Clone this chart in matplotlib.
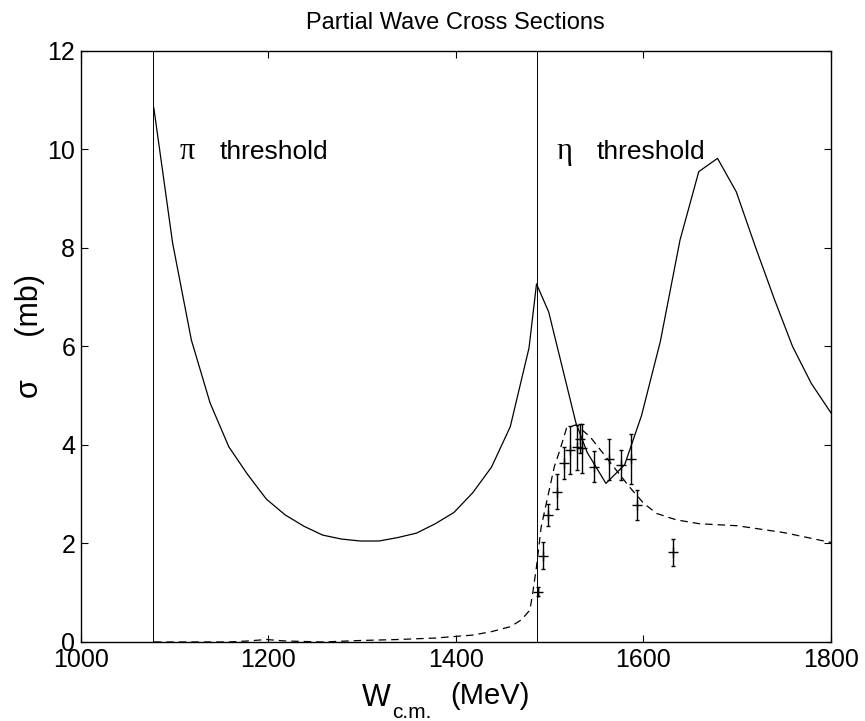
import matplotlib
matplotlib.use("Agg")
import matplotlib.pyplot as plt

plt.rcParams['font.family'] = ['Liberation Sans', 'DejaVu Sans']

# solid curve
w_solid = [1078, 1098, 1118, 1138, 1158, 1178, 1198, 1218, 1238, 1258, 1278, 1298,
           1318, 1338, 1358, 1378, 1398, 1418, 1438, 1458, 1478, 1486, 1499, 1528,
           1540, 1560, 1580, 1598, 1618, 1639, 1659, 1679, 1699, 1720, 1740, 1759,
           1779, 1800]
sig_solid = [10.84, 8.10, 6.13, 4.85, 3.96, 3.40, 2.90, 2.58, 2.35, 2.17, 2.09, 2.05,
             2.05, 2.12, 2.21, 2.40, 2.63, 3.03, 3.55, 4.37, 5.97, 7.27, 6.70, 4.45,
             3.85, 3.22, 3.60, 4.60, 6.10, 8.16, 9.55, 9.82, 9.14, 7.99, 6.94, 6.00,
             5.25, 4.65]

# dashed curve
w_dash = [1078, 1118, 1158, 1178, 1198, 1218, 1258, 1298, 1338, 1378, 1398, 1418,
          1438, 1458, 1470, 1479, 1482, 1486, 1491, 1498, 1505, 1511, 1518, 1528,
          1543, 1557, 1571, 1585, 1600, 1614, 1635, 1660, 1700, 1750, 1800]
sig_dash = [0.0, 0.0, 0.0, 0.02, 0.05, 0.02, 0.0, 0.03, 0.05, 0.08, 0.11, 0.14,
            0.21, 0.31, 0.45, 0.65, 1.0, 1.53, 2.34, 2.95, 3.56, 3.90, 4.34, 4.41,
            4.17, 3.83, 3.49, 3.15, 2.82, 2.61, 2.48, 2.40, 2.36, 2.22, 2.02]

# data points
w_data = [1488, 1493, 1498, 1508, 1515, 1522, 1529, 1532, 1535, 1547, 1563, 1576, 1587, 1593, 1632]
sig_data = [1.02, 1.75, 2.58, 3.05, 3.63, 3.90, 3.95, 4.13, 3.93, 3.56, 3.71, 3.59, 3.71, 2.78, 1.82]
err_data = [0.09, 0.27, 0.23, 0.36, 0.33, 0.48, 0.45, 0.30, 0.50, 0.31, 0.42, 0.30, 0.51, 0.30, 0.27]

pi_thr = 1077
eta_thr = 1486

fig = plt.figure(figsize=(8.65, 7.21), dpi=100)
ax = fig.add_axes([0.0933, 0.1096, 0.8674, 0.8197])

ax.plot(w_solid, sig_solid, 'k-', lw=0.9)
ax.plot(w_dash, sig_dash, 'k--', lw=0.9, dashes=(6, 4))
ax.errorbar(w_data, sig_data, yerr=err_data, fmt='k+', ms=7, mew=1.0,
            elinewidth=1.0, capsize=1.5, capthick=0.8)
ax.axvline(pi_thr, color='k', lw=0.7)
ax.axvline(eta_thr, color='k', lw=0.7)

serif = ['Liberation Serif', 'DejaVu Serif']
ax.text(1106, 9.95, 'π', family=serif, fontsize=22, va='center')
ax.text(1148, 9.95, 'threshold', fontsize=19, va='center')
ax.text(1507, 9.95, 'η', family=serif, fontsize=22, va='center')
ax.text(1550, 9.95, 'threshold', fontsize=19, va='center')

ax.set_xlim(1000, 1800)
ax.set_ylim(0, 12)
ax.set_xticks([1000, 1200, 1400, 1600, 1800])
ax.set_yticks([0, 2, 4, 6, 8, 10, 12])
ax.tick_params(direction='in', length=5, width=0.8, top=True, right=True,
               labelsize=18, pad=4)
for s in ax.spines.values():
    s.set_linewidth(1.0)

ax.set_title('Partial Wave Cross Sections', fontsize=17, pad=16)

# x label: W, subscript c.m., (MeV)
fig.text(362 / 865, 1 - 706 / 721, 'W', fontsize=22, va='baseline')
fig.text(392 / 865, 1 - 718 / 721, 'c.m.', fontsize=15, va='baseline')
fig.text(450 / 865, 1 - 704 / 721, '(MeV)', fontsize=21, va='baseline')

ax.set_ylabel('σ     (mb)', fontsize=22)
ax.yaxis.set_label_coords(-0.048, 0.518)

plt.savefig('out.png', dpi=100)
